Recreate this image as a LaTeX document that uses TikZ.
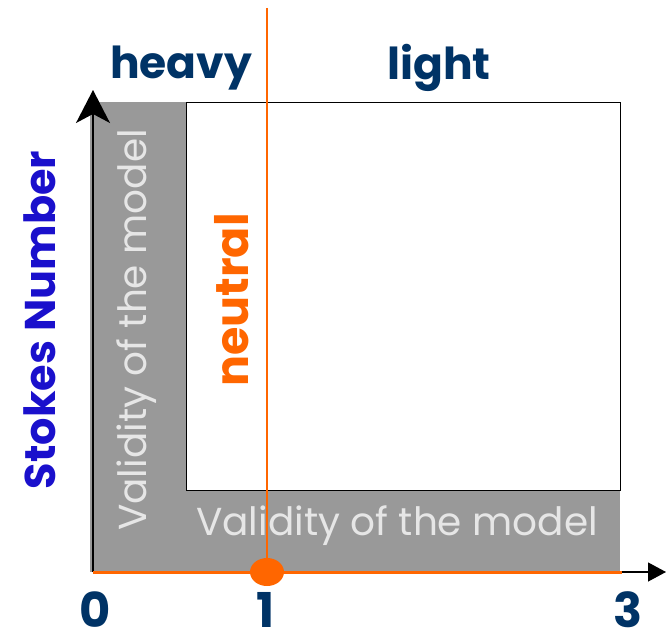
\documentclass[tikz,border=0pt]{standalone}
\usepackage{fontspec}
\setmainfont{Poppins}
\usetikzlibrary{arrows.meta,shapes.geometric}
\definecolor{grayfill}{HTML}{999999}
\definecolor{orng}{HTML}{FF6600}
\definecolor{navy}{HTML}{003366}
\definecolor{stblue}{HTML}{1A10CC}
\definecolor{pale}{HTML}{E6E6E6}
\tikzset{
  navylabel/.style={text=navy, font=\fontsize{44}{48}\selectfont\bfseries, inner sep=0pt},
  ticklabel/.style={text=navy, font=\fontsize{48}{50}\selectfont\bfseries, inner sep=0pt, anchor=base, text depth=0pt},
  validlabel/.style={text=pale, font=\fontsize{39}{42}\selectfont, inner sep=0pt},
}
\begin{document}
\begin{tikzpicture}[x=1pt,y=-1pt]
\useasboundingbox (0,0) rectangle (666,639);
\fill[grayfill] (90,102) rectangle (620,572);
\node[draw=black, line width=1.2pt, fill=white, minimum width=434pt, minimum height=388pt, anchor=north west, inner sep=0pt] (box) at (186,102) {};
\coordinate (o) at (93,572);
\coordinate (ytip) at (93,90);
\coordinate (xtip) at (666,572);
\coordinate (hend) at (622,572);
\coordinate (vtop) at (267,8);
\coordinate (vbot) at (267,572);
\draw[line width=1.5pt, -{Stealth[length=33pt,width=34pt,inset=9pt]}] (o) -- (ytip);
\draw[line width=1.2pt, -{Triangle[length=18pt,width=19pt]}] (o) -- (xtip);
\draw[orng, line width=3pt] (o) -- (hend);
\draw[orng, line width=2.5pt] (vtop) -- (vbot);
\node[fill=orng, ellipse, minimum width=34pt, minimum height=28pt, inner sep=0pt] (dot) at (vbot) {};
\node[navylabel] (heavy) at (181,68) {heavy};
\node[navylabel] (light) at (439,68) {light};
\node[ticklabel] (t0) at (95,627) {0};
\node[ticklabel] (t1) at (266,627) {1};
\node[ticklabel] (t3) at (628,627) {3};
\node[text=stblue, font=\fontsize{43}{46}\selectfont\bfseries, rotate=90, inner sep=0pt] (stokes) at (40,320) {Stokes Number};
\node[text=orng, font=\fontsize{46}{50}\selectfont\bfseries, rotate=90, inner sep=0pt] (neutral) at (232,300) {neutral};
\node[validlabel, rotate=90] (v1) at (137,330) {Validity of the model};
\node[validlabel] (v2) at (397,526) {Validity of the model};
\end{tikzpicture}
\end{document}
